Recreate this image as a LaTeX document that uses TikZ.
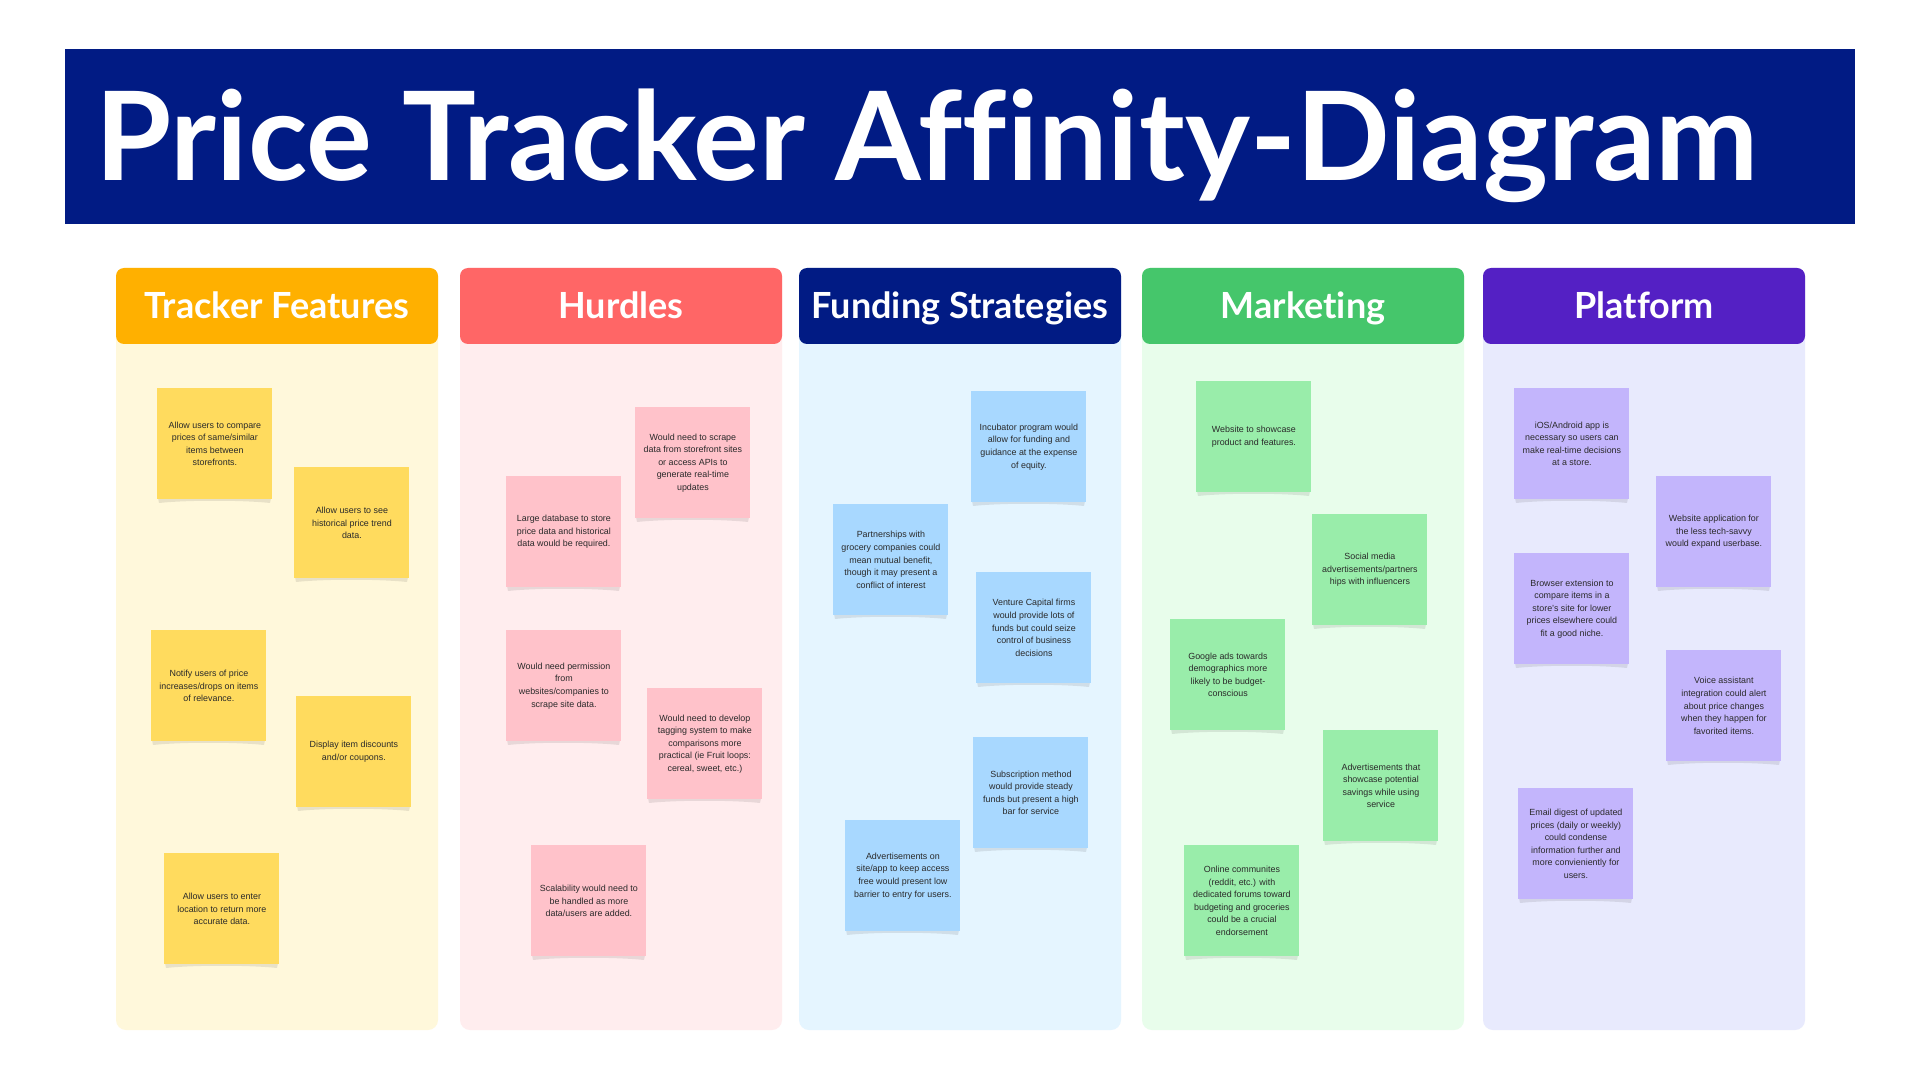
\documentclass[tikz,border=0pt]{standalone}
\usepackage{fontspec}
\setmainfont{Liberation Sans}
\newfontfamily\headfont{Lato}[Ligatures=NoCommon]
\usepackage{graphicx}

% palette
\definecolor{navy}{HTML}{011B84}
\definecolor{hdYellow}{HTML}{FFB000}
\definecolor{hdRed}{HTML}{FF6666}
\definecolor{hdGreen}{HTML}{45C66B}
\definecolor{hdPurple}{HTML}{5420C4}
\definecolor{bgYellow}{HTML}{FFF8DB}
\definecolor{bgRed}{HTML}{FFEDEE}
\definecolor{bgBlue}{HTML}{E5F5FF}
\definecolor{bgGreen}{HTML}{E8FDEB}
\definecolor{bgPurple}{HTML}{E8EAFD}
\definecolor{ntYellow}{HTML}{FFDB5E}
\definecolor{ntRed}{HTML}{FFC2CA}
\definecolor{ntBlue}{HTML}{A8D8FF}
\definecolor{ntGreen}{HTML}{99EDAA}
\definecolor{ntPurple}{HTML}{C3B5FC}
\definecolor{ink}{HTML}{2A2A2A}

\tikzset{
  colbg/.style={rounded corners=5pt},
  header/.style={rounded corners=4pt, minimum width=161pt, minimum height=38pt,
    inner sep=0pt, text height=13pt, text depth=0pt, text=white,
    font=\headfont\bfseries\fontsize{18}{20}\selectfont},
  notebox/.style={anchor=north west, minimum width=57.5pt, minimum height=55.5pt,
    inner sep=0pt, align=center, text=ink, font=\fontsize{4.45}{6.3}\selectfont},
  noteshadow/.style={fill=black, fill opacity=0.09},
}

% sticky note: name, left, top, colour, text
\newcommand\sticky[5]{%
  \fill[noteshadow] (#2+1,#3+110) -- (#2+114,#3+110) -- (#2+113,#3+115)
    .. controls (#2+85,#3+112) and (#2+30,#3+112) .. (#2+2,#3+115) -- cycle;
  \node[notebox, fill=#4] (#1) at (#2,#3) {#5};
}

\begin{document}
\begin{tikzpicture}[x=0.5pt, y=-0.5pt]
\useasboundingbox (0,0) rectangle (1920,1080);
\fill[white] (0,0) rectangle (1920,1080);

% title banner
\fill[navy] (65,49) rectangle (1855,224);
\node[anchor=base west, inner sep=0pt, text=white] (title) at (95,181)
  {\resizebox{831.5pt}{!}{\headfont\bfseries Price Tracker Affinity-Diagram}};

% column backgrounds
\fill[colbg, bgYellow] (116,268) rectangle (438,1030);
\fill[colbg, bgRed]    (460,268) rectangle (782,1030);
\fill[colbg, bgBlue]   (799,268) rectangle (1121,1030);
\fill[colbg, bgGreen]  (1142,268) rectangle (1464,1030);
\fill[colbg, bgPurple] (1483,268) rectangle (1805,1030);

% column headers
\node[header, fill=hdYellow] (hfeat) at (277,306) {Tracker Features};
\node[header, fill=hdRed]    (hhurd) at (621,306) {Hurdles};
\node[header, fill=navy]     (hfund) at (960,306) {Funding Strategies};
\node[header, fill=hdGreen]  (hmark) at (1303,306) {Marketing};
\node[header, fill=hdPurple] (hplat) at (1644,306) {Platform};

% Tracker Features
\sticky{f1}{157}{388}{ntYellow}{Allow users to compare\\prices of same/similar\\items between\\storefronts.}
\sticky{f2}{294}{467}{ntYellow}{Allow users to see\\historical price trend\\data.}
\sticky{f3}{151}{630}{ntYellow}{Notify users of price\\increases/drops on items\\of relevance.}
\sticky{f4}{296}{696}{ntYellow}{Display item discounts\\and/or coupons.}
\sticky{f5}{164}{853}{ntYellow}{Allow users to enter\\location to return more\\accurate data.}

% Hurdles
\sticky{h1}{635}{407}{ntRed}{Would need to scrape\\data from storefront sites\\or access APIs to\\generate real-time\\updates}
\sticky{h2}{506}{476}{ntRed}{Large database to store\\price data and historical\\data would be required.}
\sticky{h3}{506}{630}{ntRed}{Would need permission\\from\\websites/companies to\\scrape site data.}
\sticky{h4}{647}{688}{ntRed}{Would need to develop\\tagging system to make\\comparisons more\\practical (ie Fruit loops:\\cereal, sweet, etc.)}
\sticky{h5}{531}{845}{ntRed}{Scalability would need to\\be handled as more\\data/users are added.}

% Funding Strategies
\sticky{s1}{971}{391}{ntBlue}{Incubator program would\\allow for funding and\\guidance at the expense\\of equity.}
\sticky{s2}{833}{504}{ntBlue}{Partnerships with\\grocery companies could\\mean mutual benefit,\\though it may present a\\conflict of interest}
\sticky{s3}{976}{572}{ntBlue}{Venture Capital firms\\would provide lots of\\funds but could seize\\control of business\\decisions}
\sticky{s4}{973}{737}{ntBlue}{Subscription method\\would provide steady\\funds but present a high\\bar for service}
\sticky{s5}{845}{820}{ntBlue}{Advertisements on\\site/app to keep access\\free would present low\\barrier to entry for users.}

% Marketing
\sticky{m1}{1196}{381}{ntGreen}{Website to showcase\\product and features.}
\sticky{m2}{1312}{514}{ntGreen}{Social media\\advertisements/partners\\hips with influencers}
\sticky{m3}{1170}{619}{ntGreen}{Google ads towards\\demographics more\\likely to be budget-\\conscious}
\sticky{m4}{1323}{730}{ntGreen}{Advertisements that\\showcase potential\\savings while using\\service}
\sticky{m5}{1184}{845}{ntGreen}{Online communites\\(reddit, etc.) with\\dedicated forums toward\\budgeting and groceries\\could be a crucial\\endorsement}

% Platform
\sticky{p1}{1514}{388}{ntPurple}{iOS/Android app is\\necessary so users can\\make real-time decisions\\at a store.}
\sticky{p2}{1656}{476}{ntPurple}{Website application for\\the less tech-savvy\\would expand userbase.}
\sticky{p3}{1514}{553}{ntPurple}{Browser extension to\\compare items in a\\store's site for lower\\prices elsewhere could\\fit a good niche.}
\sticky{p4}{1666}{650}{ntPurple}{Voice assistant\\integration could alert\\about price changes\\when they happen for\\favorited items.}
\sticky{p5}{1518}{788}{ntPurple}{Email digest of updated\\prices (daily or weekly)\\could condense\\information further and\\more convieniently for\\users.}
\end{tikzpicture}
\end{document}
